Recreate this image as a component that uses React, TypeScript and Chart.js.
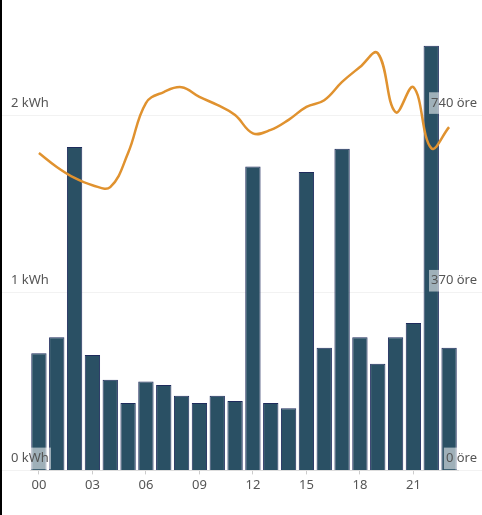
import { useEffect, useRef } from "react";
import { Chart, registerables } from "chart.js";

Chart.register(...registerables);

const hours = [
  "00", "01", "02", "03", "04", "05", "06", "07", "08", "09", "10", "11",
  "12", "13", "14", "15", "16", "17", "18", "19", "20", "21", "22", "23",
];
const usageKwh = [
  0.66, 0.75, 1.82, 0.65, 0.51, 0.38, 0.5, 0.48, 0.42, 0.38, 0.42, 0.39,
  1.71, 0.38, 0.35, 1.68, 0.69, 1.81, 0.75, 0.6, 0.75, 0.83, 2.39, 0.69,
];
const priceOre = [
  661, 632, 609, 594, 590, 661, 765, 788, 798, 778, 761, 740,
  702, 709, 730, 757, 771, 809, 840, 869, 746, 798, 671, 715,
];
const kwhTicks = [0, 1, 2];
const oreTicks = [0, 370, 740];

const labelFont = { family: "'Noto Sans', sans-serif", size: 13 };

export default function App() {
  const chartRef = useRef<HTMLCanvasElement>(null);

  useEffect(() => {
    document.body.style.margin = "0";
    if (!chartRef.current) return;
    const chart = new Chart(chartRef.current, {
      type: "bar",
      data: {
        labels: hours,
        datasets: [
          {
            type: "line",
            label: "Pris",
            data: priceOre,
            yAxisID: "y1",
            borderColor: "#e0922f",
            borderWidth: 2.5,
            pointRadius: 0,
            tension: 0.4,
            order: 0,
          },
          {
            type: "bar",
            label: "Förbrukning",
            data: usageKwh,
            yAxisID: "y",
            backgroundColor: "#2a5064",
            borderColor: "#1e2b5c",
            borderWidth: 1,
            barPercentage: 0.86,
            categoryPercentage: 1,
            order: 1,
          },
        ],
      },
      options: {
        animation: false,
        responsive: true,
        maintainAspectRatio: false,
        layout: { padding: { top: 44, bottom: 19 } },
        plugins: { legend: { display: false }, tooltip: { enabled: false } },
        scales: {
          x: {
            grid: {
              offset: false,
              drawOnChartArea: false,
              tickLength: 4,
              color: (ctx) => (ctx.index % 3 === 0 ? "#cccccc" : "transparent"),
            },
            border: { color: "#dddddd" },
            ticks: {
              autoSkip: false,
              maxRotation: 0,
              color: "#555",
              font: labelFont,
              padding: 3,
              callback: (_v, i) => (i % 3 === 0 ? hours[i] : ""),
            },
          },
          y: {
            position: "left",
            min: 0,
            max: 2.4,
            afterBuildTicks: (axis) => {
              axis.ticks = kwhTicks.map((value) => ({ value }));
            },
            afterFit: (axis) => {
              axis.width = 30;
            },
            border: { display: false },
            grid: { color: "rgba(0,0,0,0.05)", tickLength: 30 },
            ticks: {
              z: 1,
              mirror: true,
              padding: -19,
              labelOffset: -12,
              color: "#555",
              font: labelFont,
              showLabelBackdrop: true,
              backdropColor: "rgba(255,255,255,0.55)",
              backdropPadding: { x: 2, y: 3 },
              callback: (v) => `${v} kWh`,
            },
          },
          y1: {
            position: "right",
            min: 0,
            max: 888,
            afterBuildTicks: (axis) => {
              axis.ticks = oreTicks.map((value) => ({ value }));
            },
            afterFit: (axis) => {
              axis.width = 24;
            },
            border: { display: false },
            grid: { drawOnChartArea: false, color: "rgba(0,0,0,0.05)", tickLength: 24 },
            ticks: {
              z: 1,
              mirror: true,
              padding: 19,
              labelOffset: -12,
              color: "#555",
              font: labelFont,
              showLabelBackdrop: true,
              backdropColor: "rgba(255,255,255,0.55)",
              backdropPadding: { x: 2, y: 3 },
              callback: (v) => `${v} öre`,
            },
          },
        },
      },
    });
    return () => chart.destroy();
  }, []);

  return (
    <div style={{ position: "relative", width: 482, height: 515 }}>
      <div style={{ position: "absolute", left: 0, top: 0, width: 2, height: 515, background: "#000" }} />
      <canvas ref={chartRef} />
    </div>
  );
}
